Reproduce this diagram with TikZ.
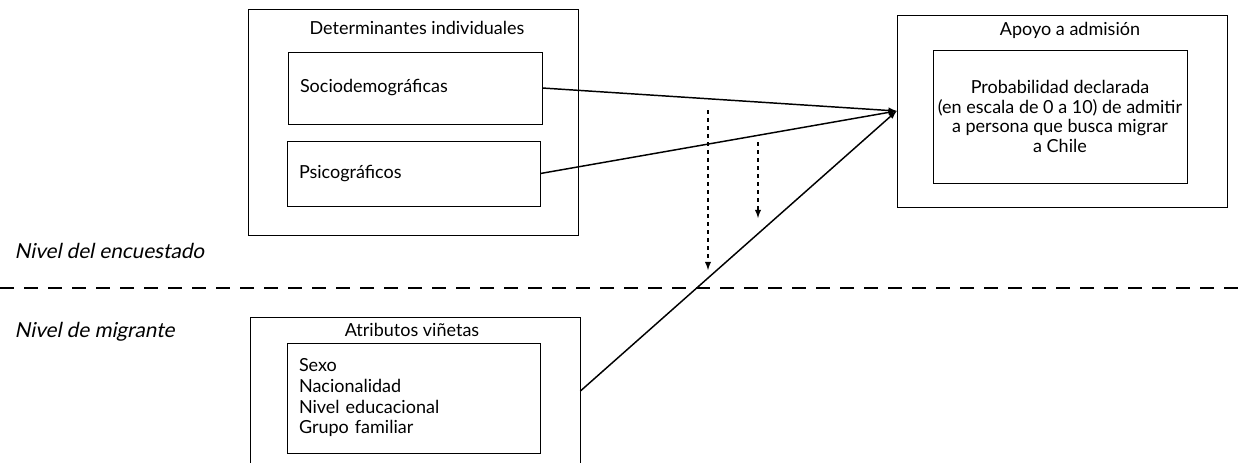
\documentclass[tikz,border=0pt]{standalone}
\usepackage{fontspec}
\setmainfont{Lato}
\newfontfamily\nivelfont[FakeSlant=0.2]{Lato}
\usetikzlibrary{arrows}

\begin{document}
\begin{tikzpicture}[x=0.75pt,y=-0.75pt,
    font=\fontsize{13.5}{14.6}\selectfont,
    box/.style={draw, line width=0.6pt, inner sep=0pt},
    item/.style={draw, line width=0.6pt, align=left, inner xsep=9pt},
    nivel/.style={anchor=west, font=\fontsize{15.5}{16}\nivelfont},
    link/.style={-latex, line width=1.1pt},
    hint/.style={-latex, line width=1.1pt, dashed}]
    \clip (0,0) rectangle (1245,462);

    % nivel del encuestado
    \node[box, minimum width=247.5pt, minimum height=169.5pt] (det) at (413,122.5) {};
    \node (dettitle) at (417,28) {Determinantes individuales};
    \node[item, text width=172.5pt, minimum height=54pt] (socio) at (415,88) {Sociodemográficas};
    \node[item, text width=171.75pt, minimum height=48.75pt] (psico) at (413.5,173.5) {Psicográficos};

    \node[box, minimum width=247.5pt, minimum height=144pt] (apoyo) at (1062,111) {};
    \node (apoyotitle) at (1070,30) {Apoyo a admisión};
    \node[draw, line width=0.6pt, align=center, minimum width=190.5pt, minimum height=99.75pt] (prob) at (1060,116.5)
        {Probabilidad declarada\\(en escala de 0 a 10) de admitir\\a persona que busca migrar\\a Chile};

    % nivel de migrante
    \node[box, minimum width=247.5pt, minimum height=111pt] (atrib) at (415,391) {};
    \node (atribtitle) at (412,330) {Atributos viñetas};
    \node[item, text width=171.75pt, minimum height=82.5pt, font=\fontsize{13.5}{15.5}\selectfont] (lista) at (413.5,398)
        {Sexo\\Nacionalidad\\Nivel educacional\\Grupo familiar};

    \node[nivel] (encuestado) at (10,251) {Nivel del encuestado};
    \node[nivel] (migrante) at (10,332) {Nivel de migrante};

    \draw[line width=0.8pt, dash pattern=on 10.5pt off 7.5pt] (0,288) -- (1245,288);

    \draw[link] (socio.east) -- (apoyo.west);
    \draw[link] (psico.east) -- (apoyo.west);
    \draw[link] (atrib.east) -- (apoyo.west);

    \coordinate (m1a) at (708,110);
    \coordinate (m1b) at (708,270);
    \coordinate (m2a) at (758,142);
    \coordinate (m2b) at (758,218);
    \draw[hint] (m1a) -- (m1b);
    \draw[hint] (m2a) -- (m2b);
\end{tikzpicture}
\end{document}
